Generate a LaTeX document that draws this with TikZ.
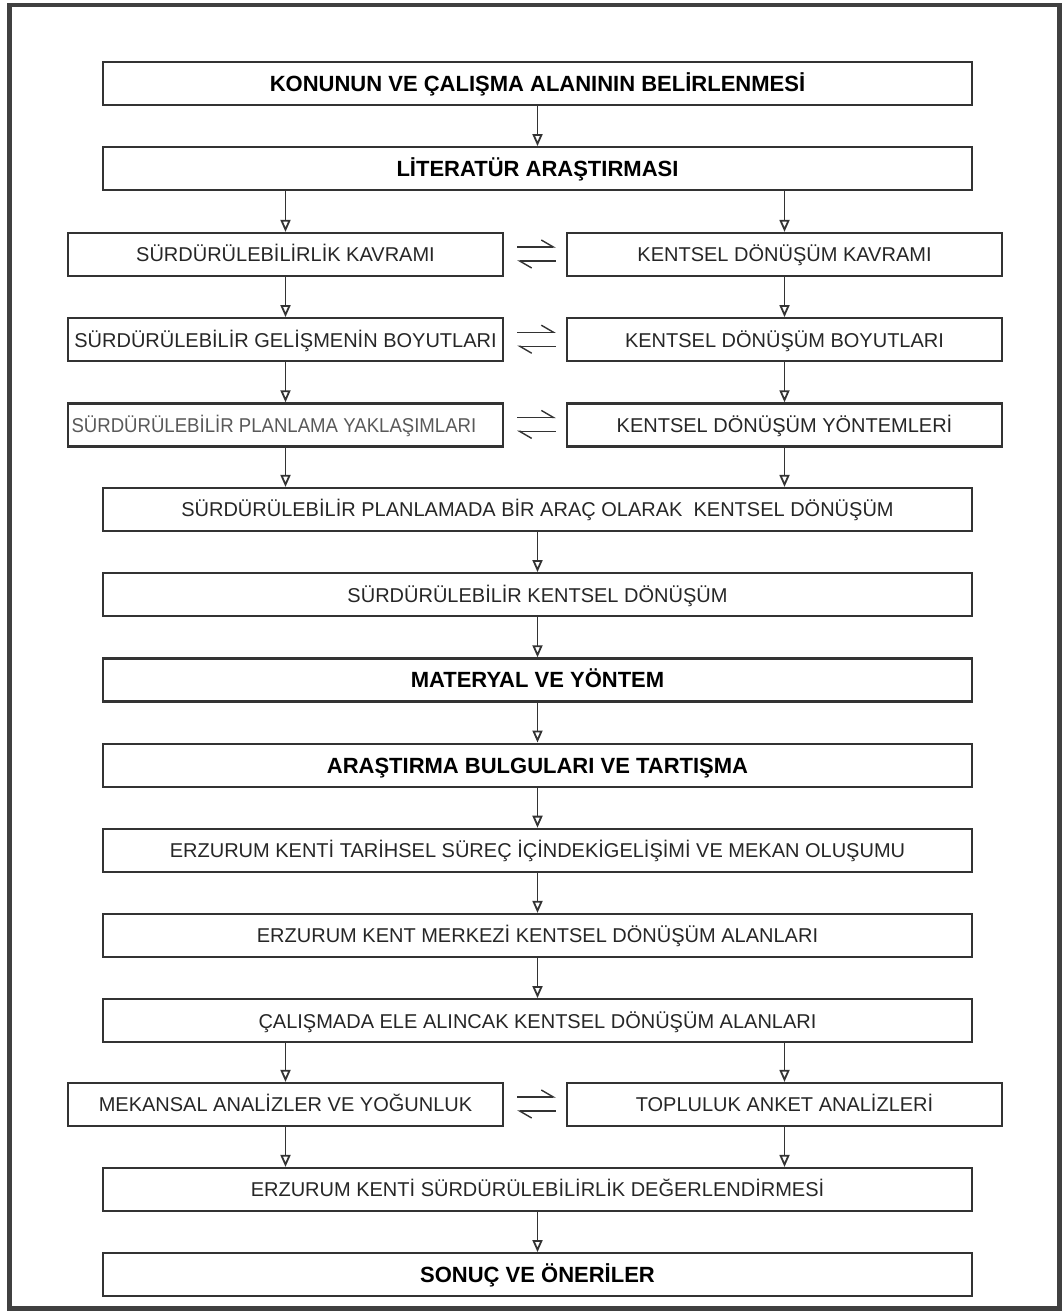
\documentclass[tikz,border=0pt]{standalone}
\usepackage{fontspec}
\setmainfont{Liberation Sans}
\usepackage{graphicx}
\usetikzlibrary{arrows.meta,positioning}
\definecolor{boxline}{HTML}{333333}
\definecolor{framegray}{HTML}{404040}
\definecolor{labelgray}{HTML}{262626}

\begin{document}
\begin{tikzpicture}[x=0.5pt, y=-0.5pt,
  stage/.style={rectangle, draw=boxline, line width=1.1pt, minimum width=434.5pt,
    minimum height=21.5pt, inner sep=1pt, text height=7.3pt, text depth=0pt,
    font=\fontsize{10}{12}\selectfont, text=labelgray},
  halfbox/.style={stage, minimum width=217.5pt},
  titlebox/.style={stage, text height=7.9pt, font=\fontsize{11}{13}\selectfont\bfseries, text=black},
  flow/.style={draw=boxline, line width=0.9pt, -{Triangle[open, length=6pt, width=5pt]}},
  harp/.style={draw=boxline, line width=0.7pt, -{Straight Barb[left, length=6pt, width=7pt]}},
]
  \useasboundingbox (0,0) rectangle (1063,1311);
  \draw[framegray, line width=2.2pt] (9.5,5) rectangle (1059.5,1308.5);

  % literature part
  \node[titlebox] (konu) at (537.5,83.5) {KONUNUN VE ÇALIŞMA ALANININ BELİRLENMESİ};
  \node[titlebox, below=20pt of konu] (lit) {LİTERATÜR ARAŞTIRMASI};

  \node[halfbox] (s1) at (285.5,254.5) {SÜRDÜRÜLEBİLİRLİK KAVRAMI};
  \node[halfbox, below=20pt of s1] (s2) {SÜRDÜRÜLEBİLİR GELİŞMENİN BOYUTLARI};
  \node[halfbox, below=20pt of s2, text=black!65] (s3)
    {\makebox[214pt][l]{\scalebox{0.93}[1]{SÜRDÜRÜLEBİLİR PLANLAMA YAKLAŞIMLARI}}};
  \node[halfbox] (k1) at (784.5,254.5) {KENTSEL DÖNÜŞÜM KAVRAMI};
  \node[halfbox, below=20pt of k1] (k2) {KENTSEL DÖNÜŞÜM BOYUTLARI};
  \node[halfbox, below=20pt of k2] (k3) {KENTSEL DÖNÜŞÜM YÖNTEMLERİ};

  \node[stage] (arac) at (537.5,509.5) {SÜRDÜRÜLEBİLİR PLANLAMADA BİR ARAÇ OLARAK~ KENTSEL DÖNÜŞÜM};
  \node[stage, below=20pt of arac] (surd) {SÜRDÜRÜLEBİLİR KENTSEL DÖNÜŞÜM};

  % method and findings
  \node[titlebox, below=20pt of surd] (mat) {MATERYAL VE YÖNTEM};
  \node[titlebox, below=20pt of mat] (bulg) {ARAŞTIRMA BULGULARI VE TARTIŞMA};
  \node[stage, below=20pt of bulg] (tarih) {ERZURUM KENTİ TARİHSEL SÜREÇ İÇİNDEKİGELİŞİMİ VE MEKAN OLUŞUMU};
  \node[stage, below=20pt of tarih] (merk) {ERZURUM KENT MERKEZİ KENTSEL DÖNÜŞÜM ALANLARI};
  \node[stage, below=20pt of merk] (cal) {ÇALIŞMADA ELE ALINCAK KENTSEL DÖNÜŞÜM ALANLARI};

  \node[halfbox] (mek) at (285.5,1104.5) {MEKANSAL ANALİZLER VE YOĞUNLUK};
  \node[halfbox] (anket) at (784.5,1104.5) {TOPLULUK ANKET ANALİZLERİ};

  \node[stage] (deger) at (537.5,1189.5) {ERZURUM KENTİ SÜRDÜRÜLEBİLİRLİK DEĞERLENDİRMESİ};
  \node[titlebox, below=20pt of deger] (sonuc) {SONUÇ VE ÖNERİLER};

  % arrows
  \foreach \a/\b in {konu/lit, s1/s2, s2/s3, k1/k2, k2/k3, arac/surd, surd/mat,
      mat/bulg, bulg/tarih, tarih/merk, merk/cal, deger/sonuc}
    \draw[flow] (\a) -- (\b);
  \foreach \a/\b/\c in {lit/s1/k1, cal/mek/anket} {
    \draw[flow] (\a.south -| \b) -- (\b);
    \draw[flow] (\a.south -| \c) -- (\c);
  }
  \foreach \a/\b/\c in {s3/k3/arac, mek/anket/deger} {
    \draw[flow] (\a) -- (\a |- \c.north);
    \draw[flow] (\b) -- (\b |- \c.north);
  }

  % two-way harpoons
  \foreach \l/\r in {s1/k1, s2/k2, s3/k3, mek/anket} {
    \draw[harp] ([shift={(13,-7.5)}]\l.east) -- ([shift={(-10,-7.5)}]\r.west);
    \draw[harp] ([shift={(-10,6.5)}]\r.west) -- ([shift={(13,6.5)}]\l.east);
  }
\end{tikzpicture}
\end{document}
